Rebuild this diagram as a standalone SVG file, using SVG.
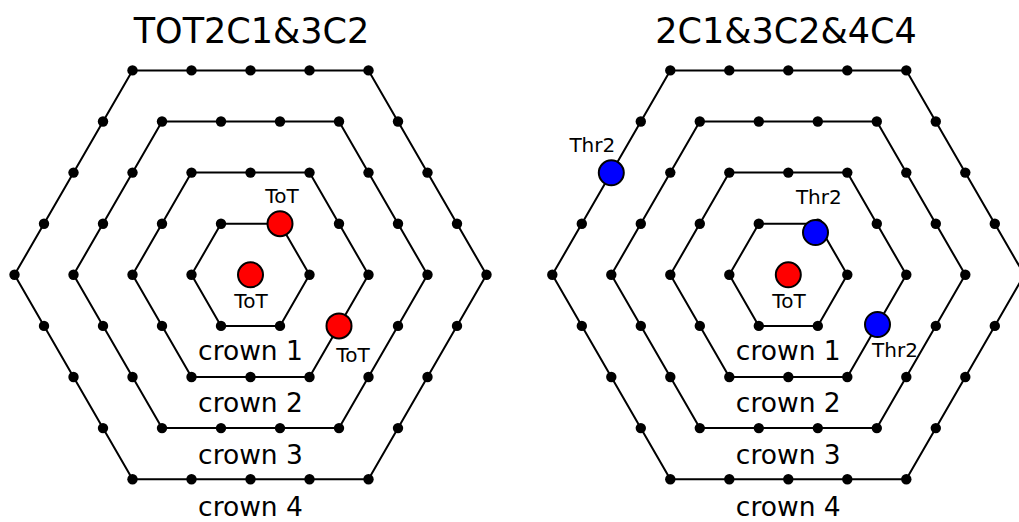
<svg xmlns="http://www.w3.org/2000/svg" xmlns:xlink="http://www.w3.org/1999/xlink" width="1019" height="522" viewBox="0 0 1019 522">
<style>
.hex{fill:none;stroke:#000;stroke-width:2;stroke-linejoin:miter}
.dot{fill:#000}
.tok{stroke:#000;stroke-width:2}
.red{fill:#ff0000}
.blue{fill:#0000ff}
text{font-family:"DejaVu Sans","Liberation Sans",sans-serif;fill:#000;text-anchor:middle}
.title{font-size:35px}
.crown{font-size:26.5px}
.lbl{font-size:20px}
</style>
<defs>
<g id="hexes">
<polygon class="hex" points="59,0 29.5,-51.1 -29.5,-51.1 -59,0 -29.5,51.1 29.5,51.1"/>
<polygon class="hex" points="118,0 59,-102.2 -59,-102.2 -118,0 -59,102.2 59,102.2"/>
<polygon class="hex" points="177,0 88.5,-153.3 -88.5,-153.3 -177,0 -88.5,153.3 88.5,153.3"/>
<polygon class="hex" points="236,0 118,-204.4 -118,-204.4 -236,0 -118,204.4 118,204.4"/>
</g>
<g id="dots" class="dot">
<circle r="5.2" cx="59" cy="0"/><circle r="5.2" cx="29.5" cy="-51.1"/><circle r="5.2" cx="-29.5" cy="-51.1"/><circle r="5.2" cx="-59" cy="0"/><circle r="5.2" cx="-29.5" cy="51.1"/><circle r="5.2" cx="29.5" cy="51.1"/>
<circle r="5.2" cx="118" cy="0"/><circle r="5.2" cx="59" cy="-102.2"/><circle r="5.2" cx="-59" cy="-102.2"/><circle r="5.2" cx="-118" cy="0"/><circle r="5.2" cx="-59" cy="102.2"/><circle r="5.2" cx="59" cy="102.2"/>
<circle r="5.2" cx="88.5" cy="-51.1"/><circle r="5.2" cx="0" cy="-102.2"/><circle r="5.2" cx="-88.5" cy="-51.1"/><circle r="5.2" cx="-88.5" cy="51.1"/><circle r="5.2" cx="0" cy="102.2"/><circle r="5.2" cx="88.5" cy="51.1"/>
<circle r="5.2" cx="177" cy="0"/><circle r="5.2" cx="88.5" cy="-153.3"/><circle r="5.2" cx="-88.5" cy="-153.3"/><circle r="5.2" cx="-177" cy="0"/><circle r="5.2" cx="-88.5" cy="153.3"/><circle r="5.2" cx="88.5" cy="153.3"/>
<circle r="5.2" cx="147.5" cy="-51.1"/><circle r="5.2" cx="118" cy="-102.2"/><circle r="5.2" cx="29.5" cy="-153.3"/><circle r="5.2" cx="-29.5" cy="-153.3"/><circle r="5.2" cx="-118" cy="-102.2"/><circle r="5.2" cx="-147.5" cy="-51.1"/>
<circle r="5.2" cx="-147.5" cy="51.1"/><circle r="5.2" cx="-118" cy="102.2"/><circle r="5.2" cx="-29.5" cy="153.3"/><circle r="5.2" cx="29.5" cy="153.3"/><circle r="5.2" cx="118" cy="102.2"/><circle r="5.2" cx="147.5" cy="51.1"/>
<circle r="5.2" cx="236" cy="0"/><circle r="5.2" cx="118" cy="-204.4"/><circle r="5.2" cx="-118" cy="-204.4"/><circle r="5.2" cx="-236" cy="0"/><circle r="5.2" cx="-118" cy="204.4"/><circle r="5.2" cx="118" cy="204.4"/>
<circle r="5.2" cx="206.5" cy="-51.1"/><circle r="5.2" cx="177" cy="-102.2"/><circle r="5.2" cx="147.5" cy="-153.3"/>
<circle r="5.2" cx="59" cy="-204.4"/><circle r="5.2" cx="0" cy="-204.4"/><circle r="5.2" cx="-59" cy="-204.4"/>
<circle r="5.2" cx="-147.5" cy="-153.3"/><circle r="5.2" cx="-177" cy="-102.2"/><circle r="5.2" cx="-206.5" cy="-51.1"/>
<circle r="5.2" cx="-206.5" cy="51.1"/><circle r="5.2" cx="-177" cy="102.2"/><circle r="5.2" cx="-147.5" cy="153.3"/>
<circle r="5.2" cx="-59" cy="204.4"/><circle r="5.2" cx="0" cy="204.4"/><circle r="5.2" cx="59" cy="204.4"/>
<circle r="5.2" cx="147.5" cy="153.3"/><circle r="5.2" cx="177" cy="102.2"/><circle r="5.2" cx="206.5" cy="51.1"/>
</g>
</defs>
<rect width="1019" height="522" fill="#fff"/>
<g id="connectors">
<use xlink:href="#hexes" href="#hexes" transform="translate(250.5,274.8)"/>
<use xlink:href="#hexes" href="#hexes" transform="translate(788.3,274.8)"/>
</g>
<g id="lattice-left"><use xlink:href="#dots" href="#dots" transform="translate(250.5,274.8)"/></g>
<g id="lattice-right"><use xlink:href="#dots" href="#dots" transform="translate(788.3,274.8)"/></g>
<g id="panel-left">
<text class="title" x="251.5" y="43">TOT2C1&amp;3C2</text>
<g id="L-center"><circle class="tok red" cx="250.5" cy="274.8" r="12.5"/><text class="lbl" x="251" y="307.5">ToT</text></g>
<g id="L-c1"><circle class="tok red" cx="280" cy="223.7" r="12.5"/><text class="lbl" x="282" y="203.3">ToT</text></g>
<g id="L-c2"><circle class="tok red" cx="339" cy="325.9" r="12.5"/><text class="lbl" x="353" y="362">ToT</text></g>
<text class="crown" x="250.5" y="359.5">crown 1</text>
<text class="crown" x="250.5" y="411.5">crown 2</text>
<text class="crown" x="250.5" y="463.5">crown 3</text>
<text class="crown" x="250.5" y="515.5">crown 4</text>
</g>
<g id="panel-right">
<text class="title" x="786" y="43">2C1&amp;3C2&amp;4C4</text>
<g id="R-center"><circle class="tok red" cx="788.3" cy="274.8" r="12.5"/><text class="lbl" x="789" y="308">ToT</text></g>
<g id="R-c1"><circle class="tok blue" cx="815.5" cy="232.5" r="12.5"/><text class="lbl" x="818.8" y="204">Thr2</text></g>
<g id="R-c2"><circle class="tok blue" cx="877.5" cy="324.5" r="12.5"/><text class="lbl" x="895" y="357">Thr2</text></g>
<g id="R-c4"><circle class="tok blue" cx="611.3" cy="172.8" r="12.5"/><text class="lbl" x="592.3" y="152.3">Thr2</text></g>
<text class="crown" x="788.3" y="359.5">crown 1</text>
<text class="crown" x="788.3" y="411.5">crown 2</text>
<text class="crown" x="788.3" y="463.5">crown 3</text>
<text class="crown" x="788.3" y="515.5">crown 4</text>
</g>
</svg>
